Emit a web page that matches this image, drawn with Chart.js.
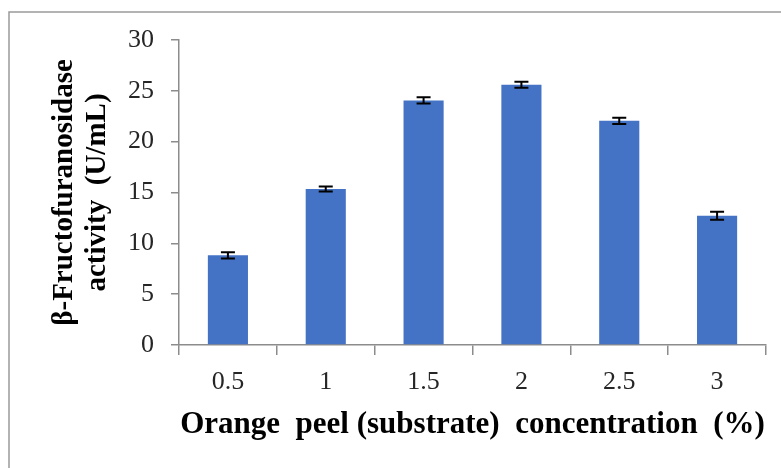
<!DOCTYPE html>
<html>
<head>
<meta charset="utf-8">
<script src="https://cdn.jsdelivr.net/npm/chart.js@4.4.1/dist/chart.umd.min.js"></script>
<style>
  html, body { margin: 0; padding: 0; background: #ffffff; }
  #wrap { width: 781px; height: 468px; position: relative; }
</style>
</head>
<body>
<div id="wrap"><canvas id="c" width="781" height="468"></canvas></div>
<script>
// ---- data ----
const categories = ["0.5", "1", "1.5", "2", "2.5", "3"];
const activity = [8.82, 15.34, 24.06, 25.6, 22.05, 12.71];
const errors = [0.3, 0.25, 0.3, 0.3, 0.3, 0.4];
const yTicks = [0, 5, 10, 15, 20, 25, 30];
const xTitle = "Orange  peel (substrate)  concentration  (%)";
const yTitle = ["β-Fructofuranosidase", "activity  (U/mL)"];

const serif = "'Liberation Serif', 'Times New Roman', serif";
const axisGray = "#8c8c8c";

const framePlugin = {
  id: 'frame',
  beforeDraw(chart) {
    const ctx = chart.ctx;
    ctx.save();
    ctx.strokeStyle = "#9a9a9a";
    ctx.lineWidth = 1.5;
    ctx.beginPath();
    ctx.moveTo(9, 468);
    ctx.lineTo(9, 12);
    ctx.lineTo(781, 12);
    ctx.stroke();
    ctx.restore();
  }
};

const errorBarPlugin = {
  id: 'errorBars',
  afterDatasetsDraw(chart) {
    const ctx = chart.ctx;
    const yScale = chart.scales.y;
    const meta = chart.getDatasetMeta(0);
    ctx.save();
    ctx.strokeStyle = "#000000";
    ctx.lineWidth = 2;
    meta.data.forEach((bar, i) => {
      const x = bar.x;
      const yTop = yScale.getPixelForValue(activity[i] + errors[i]);
      const yBot = yScale.getPixelForValue(activity[i] - errors[i]);
      const cap = 7;
      ctx.beginPath();
      ctx.moveTo(x, yTop); ctx.lineTo(x, yBot);
      ctx.moveTo(x - cap, yTop); ctx.lineTo(x + cap, yTop);
      ctx.moveTo(x - cap, yBot); ctx.lineTo(x + cap, yBot);
      ctx.stroke();
    });
    ctx.restore();
  }
};

new Chart(document.getElementById('c'), {
  type: 'bar',
  data: {
    labels: categories,
    datasets: [{
      data: activity,
      backgroundColor: "#4472C4",
      borderWidth: 0,
      barPercentage: 0.41,
      categoryPercentage: 1.0
    }]
  },
  options: {
    responsive: false,
    animation: false,
    devicePixelRatio: 1,
    layout: { padding: { left: 0, right: 15, top: 40, bottom: 0 } },
    plugins: {
      legend: { display: false },
      tooltip: { enabled: false },
      title: { display: false }
    },
    scales: {
      x: {
        offset: true,
        grid: {
          display: true,
          offset: true,
          drawOnChartArea: false,
          drawTicks: true,
          tickLength: 10,
          color: axisGray,
          lineWidth: 1.5
        },
        border: { display: true, color: axisGray, width: 1.5 },
        ticks: {
          color: "#262626",
          font: { family: serif, size: 26 },
          padding: 12,
          maxRotation: 0
        },
        title: {
          display: true,
          text: xTitle,
          color: "#000000",
          font: { family: serif, size: 31, weight: 'bold', lineHeight: 1.1 },
          padding: { top: 0, bottom: 26 }
        },
        afterFit(scale) { scale.height = 123; }
      },
      y: {
        min: 0,
        max: 30,
        afterBuildTicks(scale) { scale.ticks = yTicks.map(v => ({ value: v })); },
        grid: {
          display: true,
          drawOnChartArea: false,
          drawTicks: true,
          tickLength: 8,
          color: axisGray,
          lineWidth: 1.5
        },
        border: { display: true, color: axisGray, width: 1.5 },
        ticks: {
          color: "#262626",
          font: { family: serif, size: 26 },
          padding: 17
        },
        title: {
          display: true,
          text: yTitle,
          color: "#000000",
          font: { family: serif, size: 29, weight: 'bold', lineHeight: 1.14 },
          padding: { top: 48, bottom: 0 }
        },
        afterFit(scale) { scale.width = 179; }
      }
    }
  },
  plugins: [framePlugin, errorBarPlugin]
});
</script>
</body>
</html>
